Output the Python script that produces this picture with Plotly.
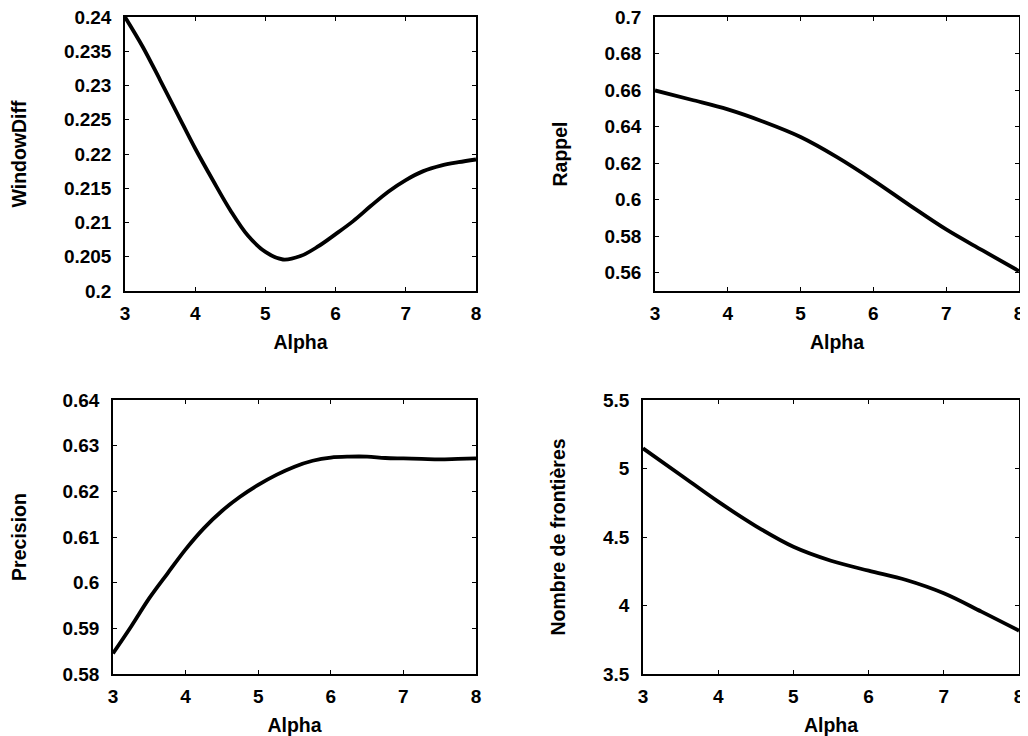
import plotly.graph_objects as go

alpha_q = [3, 3.25, 3.5, 3.75, 4, 4.25, 4.5, 4.75, 5, 5.25, 5.5, 5.75, 6, 6.25, 6.5, 6.75, 7, 7.25, 7.5, 7.75, 8]
windowdiff = [0.2400, 0.2357, 0.2308, 0.2258, 0.2208, 0.2162, 0.2118, 0.2081, 0.2057, 0.2046, 0.2051,
              0.2065, 0.2083, 0.2102, 0.2124, 0.2145, 0.2162, 0.2175, 0.2183, 0.2188, 0.2192]
precision = [0.5845, 0.5904, 0.5966, 0.6020, 0.6073, 0.6119, 0.6157, 0.6188, 0.6214, 0.6236, 0.6254,
             0.6267, 0.6274, 0.6276, 0.6276, 0.6273, 0.6272, 0.6271, 0.6270, 0.6271, 0.6272]

alpha_h = [3, 3.5, 4, 4.5, 5, 5.5, 6, 6.5, 7, 7.5, 8]
rappel = [0.6598, 0.6547, 0.6494, 0.6425, 0.6343, 0.6233, 0.6106, 0.5969, 0.5837, 0.5722, 0.5609]
frontieres = [5.147, 4.953, 4.758, 4.580, 4.429, 4.327, 4.254, 4.186, 4.089, 3.955, 3.816]

x_ticks = [3, 4, 5, 6, 7, 8]
wd_ticks = [0.2, 0.205, 0.21, 0.215, 0.22, 0.225, 0.23, 0.235, 0.24]
rap_ticks = [0.56, 0.58, 0.6, 0.62, 0.64, 0.66, 0.68, 0.7]
pre_ticks = [0.58, 0.59, 0.6, 0.61, 0.62, 0.63, 0.64]
nb_ticks = [3.5, 4, 4.5, 5, 5.5]

# The page body has an 8px margin, so the figure is 8px smaller and shifted.
OFF = 8
W, H = 1028 - OFF, 736 - OFF

panels = [
    (alpha_q, windowdiff, "WindowDiff", [0.2, 0.24], wd_ticks, (125, 476), (17, 291)),
    (alpha_h, rappel, "Rappel", [0.55, 0.70], rap_ticks, (655, 1019), (17, 291)),
    (alpha_q, precision, "Precision", [0.58, 0.64], pre_ticks, (113, 476), (400, 674)),
    (alpha_h, frontieres, "Nombre de frontières", [3.5, 5.5], nb_ticks, (643, 1019), (400, 674)),
]

FONT = "Liberation Sans"
TICKSIZE = 19
TITLESIZE = 19.5
fig = go.Figure()
layout = dict(
    template="none",
    width=W, height=H, margin=dict(l=0, r=0, t=0, b=0, autoexpand=False),
    paper_bgcolor="white", plot_bgcolor="white", showlegend=False,
    font=dict(family=FONT, size=TICKSIZE, color="black"),
)
for i, (xs, vals, ytitle, yr, yticks, (x0, x1), (yt, yb)) in enumerate(panels, start=1):
    xa = "x" if i == 1 else f"x{i}"
    ya = "y" if i == 1 else f"y{i}"
    fig.add_trace(go.Scatter(x=xs, y=vals, mode="lines", xaxis=xa, yaxis=ya,
                             line=dict(color="black", width=3.8, shape="spline", smoothing=1)))
    common = dict(showgrid=False, zeroline=False, showline=True, linecolor="black", linewidth=1.5,
                  mirror="ticks", ticks="inside", ticklen=4, tickwidth=1, tickcolor="black",
                  automargin=False, ticklabeloverflow="allow",
                  tickfont=dict(family=FONT, size=TICKSIZE, color="black", weight="bold"))
    layout["xaxis" if i == 1 else f"xaxis{i}"] = dict(
        domain=[(x0 - OFF) / W, (x1 - OFF) / W], anchor=ya, range=[3, 8], tickvals=x_ticks,
        ticktext=[str(t) for t in x_ticks], ticklabelstandoff=4,
        title=dict(text="Alpha", font=dict(family=FONT, size=TITLESIZE, color="black", weight="bold"),
                   standoff=13),
        **common)
    layout["yaxis" if i == 1 else f"yaxis{i}"] = dict(
        domain=[1 - (yb - OFF) / H, 1 - (yt - OFF) / H], anchor=xa, range=yr, tickvals=yticks,
        ticktext=[f"{t:g}" for t in yticks], ticklabelstandoff=8,
        title=dict(text=ytitle, font=dict(family=FONT, size=TITLESIZE, color="black", weight="bold"),
                   standoff=32),
        **common)

fig.update_layout(**layout)
fig.write_html("out.html")
